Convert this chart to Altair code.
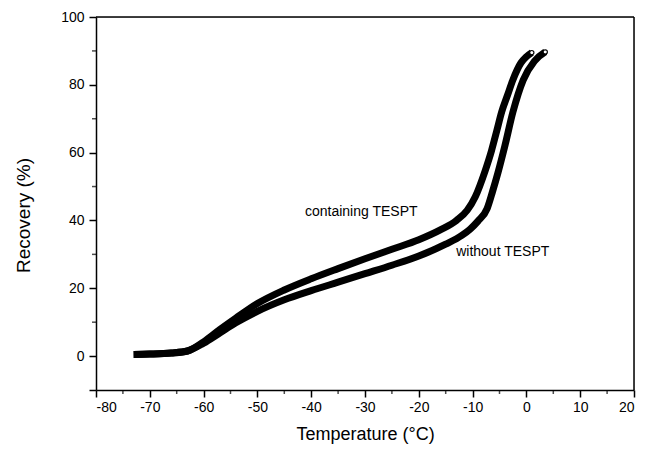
import altair as alt
import pandas as pd

# Data
with_x = [-73, -70, -66, -63, -60, -57, -54, -50, -45, -40, -35, -30, -25, -20, -16, -13, -11, -9.5, -7.7, -6.5, -5.5, -4.6, -3.5, -2.5, -1, 0, 1]
with_y = [0.5, 0.6, 0.9, 1.5, 4.2, 7.8, 11.2, 15.5, 19.5, 22.8, 25.8, 28.7, 31.5, 34.3, 37.2, 40, 43, 47, 54.5, 60.5, 66.5, 72, 77, 81.5, 86.5, 88.3, 89.5]

without_x = [-73, -70, -66, -63, -60, -57, -54, -50, -45, -40, -35, -30, -25, -20, -15, -12, -10.5, -9, -7.3, -6.3, -5.3, -4, -2.5, -0.6, 1.5, 3.5]
without_y = [0.5, 0.6, 0.9, 1.5, 3.8, 6.8, 9.8, 13.2, 16.6, 19.3, 21.8, 24.3, 26.8, 29.5, 33, 35.6, 37.4, 39.8, 43.5, 48.5, 54, 62, 72, 81.4, 87, 89.7]

labels = ["containing TESPT", "without TESPT"]
label_x = [-30.7, -4.4]
label_y = [42.5, 30.7]

x_major = [-80, -70, -60, -50, -40, -30, -20, -10, 0, 10, 20]
x_minor = [-75, -65, -55, -45, -35, -25, -15, -5, 5, 15]
y_major = [-10, 0, 20, 40, 60, 80, 100]
y_minor = [10, 30, 50, 70, 90]

W, H = 538, 373
FONT = "Liberation Sans"
LBL = "datum.value < 0 ? '-' + abs(datum.value) : '' + datum.value"

df = pd.concat([
    pd.DataFrame({"x": with_x, "y": with_y, "series": "containing TESPT"}),
    pd.DataFrame({"x": without_x, "y": without_y, "series": "without TESPT"}),
])
ends = pd.DataFrame({"x": [with_x[-1], without_x[-1]], "y": [with_y[-1], without_y[-1]]})
lab = pd.DataFrame({"t": labels, "x": label_x, "y": label_y})

xs = alt.Scale(domain=[-80, 20], nice=False, zero=False)
ys = alt.Scale(domain=[-10, 100], nice=False, zero=False)

x_axis = alt.Axis(values=x_major, title="Temperature (°C)", tickSize=7, labelPadding=3,
                  labelFontSize=14, labelFont=FONT, titleFont=FONT, titleFontSize=18,
                  titleFontWeight="normal", titleY=44, titleBaseline="middle",
                  labelExpr=LBL,
                  grid=False, domainColor="black", tickColor="black", labelColor="black",
                  titleColor="black", domainWidth=1.5, tickWidth=1.5)
y_axis = alt.Axis(values=y_major, title="Recovery (%)", tickSize=7, labelPadding=5,
                  labelFontSize=14, labelFont=FONT, titleFont=FONT, titleFontSize=19,
                  titleFontWeight="normal", titleX=-73, titleY=198, titleAngle=-90,
                  titleBaseline="middle", titleAlign="center",
                  labelExpr="datum.value < 0 ? '' : '' + datum.value",
                  grid=False, domainColor="black", tickColor="black", labelColor="black",
                  titleColor="black", domainWidth=1.5, tickWidth=1.5)

lines = alt.Chart(df).mark_line(color="black", strokeWidth=7, interpolate="monotone").encode(
    x=alt.X("x:Q", scale=xs, axis=x_axis),
    y=alt.Y("y:Q", scale=ys, axis=y_axis),
    detail="series:N",
    order="x:Q",
)

end_pts = alt.Chart(ends).mark_point(shape="circle", filled=True, fill="white", stroke="black",
                                      strokeWidth=1.2, size=18, opacity=1).encode(
    x=alt.X("x:Q", scale=xs), y=alt.Y("y:Q", scale=ys))

texts = alt.Chart(lab).mark_text(font=FONT, fontSize=14, color="black", align="center",
                                 baseline="middle").encode(
    x=alt.X("x:Q", scale=xs), y=alt.Y("y:Q", scale=ys), text="t:N")

xmin_df = pd.DataFrame({"x": x_minor})
ymin_df = pd.DataFrame({"y": y_minor})
x_minor_ticks = alt.Chart(xmin_df).mark_tick(color="black", orient="vertical", size=4,
                                             thickness=1.5).encode(
    x=alt.X("x:Q", scale=xs), y=alt.value(H + 2))
y_minor_ticks = alt.Chart(ymin_df).mark_tick(color="black", orient="horizontal", size=4,
                                             thickness=1.5).encode(
    y=alt.Y("y:Q", scale=ys), x=alt.value(-2))

top_border = alt.Chart().mark_rule(color="black", strokeWidth=1.5).encode(
    x=alt.value(0), x2=alt.value(W), y=alt.value(0))
right_border = alt.Chart().mark_rule(color="black", strokeWidth=1.5).encode(
    x=alt.value(W), y=alt.value(0), y2=alt.value(H))

chart = alt.layer(lines, end_pts, texts, x_minor_ticks, y_minor_ticks,
                  top_border, right_border).properties(
    width=W, height=H,
    autosize=alt.AutoSizeParams(type="none"),
    padding={"left": 88, "top": 9, "right": 4, "bottom": 54},
).configure_view(stroke="black", strokeWidth=1.5).configure(background="white")

chart.save("out.html", embed_options={"renderer": "svg", "actions": False})
